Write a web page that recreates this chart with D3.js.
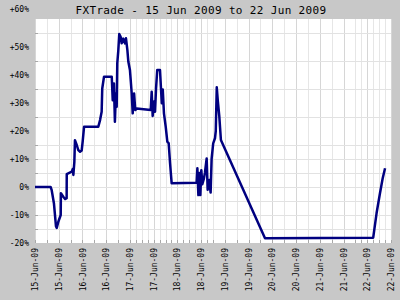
<meta charset="utf-8">
<script src="https://d3js.org/d3.v7.js"></script>
<style>
body {
  margin: 0;
  background-color: #c8c8c8;
}
svg {
  display: block;
  font-family: 'DejaVu Sans Mono', monospace;
}
</style>
<html>
  <body>
    <div id="chart"></div>
    <script>
      // hours since 15 Jun 2009 00:00
      var hours = [0, 7.9, 8.4, 9.6, 10.6, 11.0, 11.8, 13.0, 13.1, 14.3, 15.2, 16.0, 16.05, 18.6, 19.1, 19.4, 19.9, 20.2,
        21.1, 21.9, 22.8, 23.6, 24.1, 24.8, 32.0, 32.9, 33.7, 34.0, 34.9, 38.8, 39.3, 39.9, 40.4, 40.9, 41.3, 41.6,
        42.1, 42.6, 43.3, 43.8, 44.6, 45.5, 46.0, 46.7, 47.2, 48.0, 48.9, 49.4, 50.1, 50.7, 51.4, 58.5, 59.0, 59.5,
        60.2, 60.7, 61.2, 61.8, 63.2, 64.1, 64.6, 65.2, 66.1, 66.9, 67.6, 68.3, 69.1, 81.7, 82.1, 82.6, 83.1, 83.6,
        84.1, 84.6, 85.4, 85.9, 86.8, 87.3, 88.1, 88.8, 89.3, 90.1, 91.0, 91.4, 91.9, 92.4, 93.2, 94.0, 116.3, 171.0,
        172.7, 174.4, 175.8, 177.0];
      // percent change
      var values = [0, 0, -1, -6, -14, -14.6, -12.4, -10, -2.2, -3.5, -4.3, -4, 4.6, 5.5, 6.4, 4.3, 9, 16.7,
        15, 13.2, 12.6, 13, 16.2, 21.5, 21.5, 23.9, 26.9, 35.2, 39.4, 39.4, 31, 37, 23.3, 33.5, 28.7, 44.2,
        48.5, 54.6, 53.6, 51.3, 53, 51.3, 53.1, 49, 44.7, 41.8, 33.4, 26.3, 33.4, 27.5, 28, 27.5, 34, 25.4,
        30.5, 26.9, 35.2, 41.8, 41.8, 29.9, 34.8, 26.3, 21.5, 16.2, 15.6, 8.4, 1.3, 1.5, 6.7, -2.9, 5, -2.9,
        6, 1, 3, 5, 10.2, -1, 2.5, -2, 10, 15.6, 17.4, 20, 35.6, 31, 25.1, 16.8, -18.3, -18.1,
        -9.4, -2.3, 3.1, 6.7];

      var xTickHours = [0, 12, 24, 36, 48, 60, 72, 84, 96, 108, 120, 132, 144, 156, 168, 180];
      var xTickLabels = ["15-Jun-09", "15-Jun-09", "16-Jun-09", "16-Jun-09", "17-Jun-09", "17-Jun-09",
        "18-Jun-09", "18-Jun-09", "19-Jun-09", "19-Jun-09", "20-Jun-09", "20-Jun-09",
        "21-Jun-09", "21-Jun-09", "22-Jun-09", "22-Jun-09"];
      var yTicks = [60, 50, 40, 30, 20, 10, 0, -10, -20];
      var yTickLabels = ["+60%", "+50%", "+40%", "+30%", "+20%", "+10%", "0%", "-10%", "-20%"];
      var yGrid = [55, 45, 35, 25, 15, 10, 5, 0, -5, -10, -15];
      var xGrid = d3.range(0, 48, 6).concat(d3.range(48, 90, 3), d3.range(90, 165, 6), d3.range(165, 181, 3));

      var width = 400, height = 300;
      var margin = {top: 19, right: 9, bottom: 57, left: 35};
      var w = width - margin.left - margin.right,
          h = height - margin.top - margin.bottom;

      var svg = d3.select("#chart")
        .append("svg")
          .attr("width", width)
          .attr("height", height);

      svg.append("rect")
        .attr("width", width)
        .attr("height", height)
        .attr("fill", "#c8c8c8");

      svg.append("text")
        .attr("x", 201)
        .attr("y", 14)
        .attr("text-anchor", "middle")
        .style("font-size", "11px")
        .style("letter-spacing", "0.35px")
        .text("FXTrade - 15 Jun 2009 to 22 Jun 2009");

      var g = svg.append("g")
        .attr("transform", "translate(" + margin.left + "," + margin.top + ")");

      var x = d3.scaleLinear().domain([0, 180]).range([0, w]);
      var y = d3.scaleLinear().domain([-20, 60]).range([h, 0]);

      g.append("rect")
        .attr("width", w)
        .attr("height", h)
        .attr("fill", "white");

      // grid
      g.append("g").selectAll("line")
        .data(xGrid)
        .enter().append("line")
          .attr("x1", d => Math.round(x(d)) + 0.5)
          .attr("x2", d => Math.round(x(d)) + 0.5)
          .attr("y1", 0)
          .attr("y2", h)
          .attr("stroke", d => d % 12 == 0 ? "#d6d6d6" : "#e6e6e6");

      g.append("g").selectAll("line")
        .data(yGrid)
        .enter().append("line")
          .attr("x1", 0)
          .attr("x2", w)
          .attr("y1", d => Math.round(y(d)) + 0.5)
          .attr("y2", d => Math.round(y(d)) + 0.5)
          .attr("stroke", "#e2e2e2");

      // small ticks inside the plot
      g.append("g").selectAll("line")
        .data(xGrid)
        .enter().append("line")
          .attr("x1", d => Math.round(x(d)) + 0.5)
          .attr("x2", d => Math.round(x(d)) + 0.5)
          .attr("y1", h - 3)
          .attr("y2", h)
          .attr("stroke", "#a8a8a8");

      g.append("g").selectAll("line")
        .data(yGrid)
        .enter().append("line")
          .attr("x1", 0)
          .attr("x2", 3)
          .attr("y1", d => Math.round(y(d)) + 0.5)
          .attr("y2", d => Math.round(y(d)) + 0.5)
          .attr("stroke", "#a8a8a8");

      // data line
      var line = d3.line()
        .x((d, i) => x(hours[i]))
        .y(d => y(d));

      g.append("path")
        .datum(values)
        .attr("fill", "none")
        .attr("stroke", "#000080")
        .attr("stroke-width", 2.5)
        .attr("stroke-linejoin", "round")
        .attr("d", line);

      // y axis labels
      var yAxis = d3.axisLeft(y)
        .tickValues(yTicks)
        .tickSize(0)
        .tickPadding(6)
        .tickFormat((d, i) => yTickLabels[i]);

      var ya = g.append("g").call(yAxis);
      ya.select(".domain").remove();
      ya.selectAll("text")
        .style("font-size", "8px")
        .style("font-family", "'DejaVu Sans Mono', monospace")
        .attr("fill", "black");
      ya.selectAll(".tick").filter(d => d == 60).select("text").attr("dy", "-0.9em");

      // x axis labels
      var xAxis = d3.axisBottom(x)
        .tickValues(xTickHours)
        .tickSize(0)
        .tickFormat((d, i) => xTickLabels[i]);

      var xa = g.append("g")
        .attr("transform", "translate(0," + h + ")")
        .call(xAxis);
      xa.select(".domain").remove();
      xa.selectAll("text")
        .style("font-size", "8px")
        .style("font-family", "'DejaVu Sans Mono', monospace")
        .attr("fill", "black")
        .attr("text-anchor", "end")
        .attr("transform", "rotate(-90)")
        .attr("x", -5)
        .attr("y", 0)
        .attr("dy", "0.32em");
    </script>
  </body>
</html>
